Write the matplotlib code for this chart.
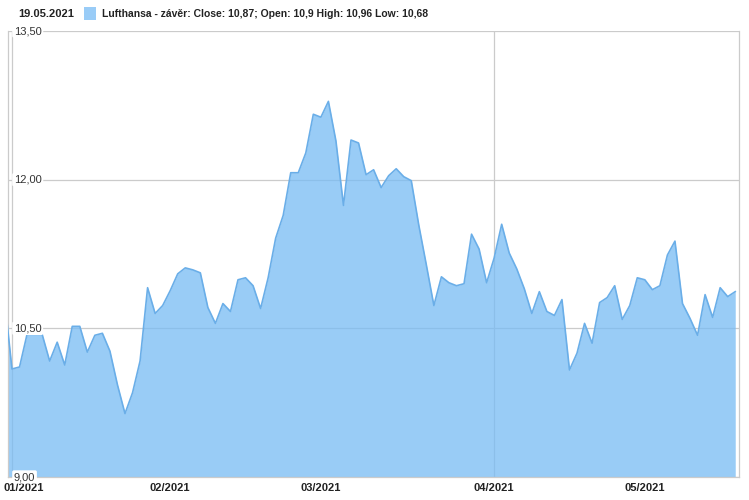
import numpy as np
import matplotlib.pyplot as plt
from matplotlib.patches import Rectangle
from matplotlib.transforms import ScaledTranslation

plt.rcParams['font.family'] = ['Liberation Sans', 'DejaVu Sans']

# zavirací ceny (první bod je mimo osu a je oříznut)
close = [10.80,
         10.09, 10.11, 10.44, 10.44, 10.44, 10.17, 10.36, 10.13, 10.52, 10.52,
         10.26, 10.43, 10.45, 10.27, 9.93, 9.64, 9.85, 10.17, 10.91, 10.65,
         10.73, 10.88, 11.05, 11.11, 11.09, 11.06, 10.71, 10.55, 10.75, 10.67,
         10.99, 11.01, 10.93, 10.70, 11.01, 11.41, 11.64, 12.07, 12.07, 12.27,
         12.66, 12.63, 12.79, 12.39, 11.74, 12.40, 12.37, 12.05, 12.10, 11.92,
         12.04, 12.11, 12.03, 11.99, 11.54, 11.14, 10.73, 11.02, 10.96, 10.93,
         10.95, 11.45, 11.30, 10.96, 11.21, 11.55, 11.26, 11.10, 10.90, 10.65,
         10.87, 10.67, 10.63, 10.79, 10.08, 10.25, 10.55, 10.35, 10.76, 10.81,
         10.93, 10.59, 10.73, 11.01, 10.99, 10.89, 10.93, 11.24, 11.38, 10.75,
         10.60, 10.43, 10.84, 10.61, 10.91, 10.82, 10.87]
idx = np.arange(len(close)) - 1

month_pos = [1, 21, 41, 64, 84]
month_labels = ['01/2021', '02/2021', '03/2021', '04/2021', '05/2021']
vgrid_pos = [0, 64]
y_ticks = [9.0, 10.5, 12.0, 13.5]
y_labels = ['9,00', '10,50', '12,00', '13,50']

date_text = '19.05.2021'
legend_text = 'Lufthansa - závěr: Close: 10,87; Open: 10,9 High: 10,96 Low: 10,68'

fig = plt.figure(figsize=(7.49, 5.0), dpi=100)
ax = fig.add_axes([8 / 749, (500 - 477) / 500, 731 / 749, 446 / 500])

grid_c = '#cbcbcb'
for y in y_ticks:
    ax.axhline(y, color=grid_c, lw=0.9, zorder=1)
for x in vgrid_pos:
    ax.axvline(x, color=grid_c, lw=0.9, zorder=1)

ax.fill_between(idx, close, 9.0, color='#77bbf4', alpha=0.75, lw=0, zorder=2)
ax.plot(idx, close, color='#6aaee8', lw=1.2, zorder=3)

ax.set_xlim(-0.53, 96.5)
ax.set_ylim(9.0, 13.5)
ax.set_yticks([])
ax.set_xticks(month_pos)
ax.set_xticklabels(month_labels, fontsize=8, fontweight='bold', color='#222222')
ax.tick_params(axis='x', length=0, pad=4)
lbls = ax.get_xticklabels()
lbls[0].set_transform(lbls[0].get_transform() + ScaledTranslation(4 / 100, 0, fig.dpi_scale_trans))

for s in ax.spines.values():
    s.set_color(grid_c)
    s.set_linewidth(0.9)
ax.spines['top'].set_visible(False)

for y, t in zip(y_ticks, y_labels):
    ax.text(0.008, y, t, transform=ax.get_yaxis_transform(), fontsize=8,
            color='#333333', ha='left', va='center', zorder=5,
            bbox=dict(boxstyle='round,pad=0.15', fc='white', ec='none'))

fig.text(18 / 749, 1 - 14 / 500, date_text, fontsize=8, fontweight='bold',
         color='#222222', ha='left', va='center')
fig.patches.append(Rectangle((84 / 749, 1 - 20 / 500), 12 / 749, 13 / 500,
                             transform=fig.transFigure, fc='#99ccf7', ec='none'))
fig.text(102 / 749, 1 - 14 / 500, legend_text, fontsize=7.5, fontweight='bold',
         color='#222222', ha='left', va='center')

fig.savefig('out.png', dpi=100)
